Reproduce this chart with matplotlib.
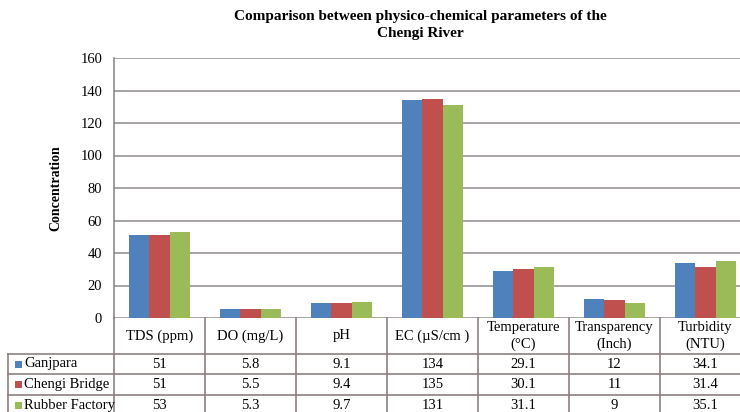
import matplotlib
matplotlib.use("Agg")
import matplotlib.pyplot as plt
from matplotlib.patches import Rectangle
from matplotlib.lines import Line2D
import numpy as np

plt.rcParams['font.family'] = ['Liberation Serif', 'DejaVu Serif']

title = "Comparison between physico-chemical parameters of the\nChengi River"
ylabel = "Concentration"
categories = ["TDS (ppm)", "DO (mg/L)", "pH", "EC (\u00b5S/cm )", "Temperature\n(\u00b0C)",
              "Transparency\n(Inch)", "Turbidity\n(NTU)"]
series_names = ["Ganjpara", "Chengi Bridge", "Rubber Factory"]
ganjpara = [51, 5.8, 9.1, 134, 29.1, 12, 34.1]
chengi_bridge = [51, 5.5, 9.4, 135, 30.1, 11, 31.4]
rubber_factory = [53, 5.3, 9.7, 131, 31.1, 9, 35.1]
table_text = [
    ["51", "5.8", "9.1", "134", "29.1", "12", "34.1"],
    ["51", "5.5", "9.4", "135", "30.1", "11", "31.4"],
    ["53", "5.3", "9.7", "131", "31.1", "9", "35.1"],
]
colors = ["#4F81BD", "#C0504D", "#9BBB59"]
yticks = [0, 20, 40, 60, 80, 100, 120, 140, 160]

W, H = 740, 412
fig = plt.figure(figsize=(W / 100, H / 100), dpi=100)

ax_left, ax_right, ax_top, ax_bot = 114, 751, 58, 318
ax = fig.add_axes([ax_left / W, (H - ax_bot) / H, (ax_right - ax_left) / W, (ax_bot - ax_top) / H])

series = [ganjpara, chengi_bridge, rubber_factory]
n = len(categories)
x = np.arange(n)
bw = 0.225
for i, (vals, c, name) in enumerate(zip(series, colors, series_names)):
    ax.bar(x + (i - 1) * bw, vals, width=bw, color=c, label=name, zorder=3, linewidth=0)

ax.set_xlim(-0.5, n - 0.5)
ax.set_ylim(0, 160)
ax.set_yticks(yticks)
ax.set_yticklabels([str(t) for t in yticks], fontsize=10.5)
ax.tick_params(axis='y', length=0, pad=8.5)
ax.set_xticks([])
ax.yaxis.grid(True, color="#9A9595", linewidth=1.2, zorder=0)
for s in ["top", "right", "bottom"]:
    ax.spines[s].set_visible(False)
ax.spines["left"].set_color("#8C8C8C")
ax.spines["left"].set_linewidth(1.2)
ax.set_ylabel(ylabel, fontsize=10, fontweight="bold", labelpad=13)

fig.suptitle(title, fontsize=11, fontweight="bold", x=420 / W, y=1 - 10 / H, va="top", linespacing=1.38)

# table (pixel helpers)
def fx(px):
    return px / W

def fy(py):
    return 1 - py / H

line_col = "#8E8080"
row_lines = [318, 354, 374, 395, 416]
col_w = (ax_right - ax_left) / n
col_edges = [ax_left + k * col_w for k in range(n + 1)]

# horizontal lines
for k, yl in enumerate(row_lines):
    if k == 0:
        continue
    fig.add_artist(Line2D([fx(8), fx(ax_right)], [fy(yl), fy(yl)], color=line_col, linewidth=1.2))
# vertical lines
for xe in col_edges:
    fig.add_artist(Line2D([fx(xe), fx(xe)], [fy(318), fy(416)], color=line_col, linewidth=1.2))
fig.add_artist(Line2D([fx(8), fx(8)], [fy(354), fy(416)], color=line_col, linewidth=1.2))

# header text
for k, cat in enumerate(categories):
    cx = (col_edges[k] + col_edges[k + 1]) / 2
    fig.text(fx(cx), fy((318 + 354) / 2), cat, ha="center", va="center", fontsize=10.5, linespacing=1.25)

# rows
for r in range(3):
    cy = (row_lines[r + 1] + row_lines[r + 2]) / 2
    fig.add_artist(Rectangle((fx(15), fy(cy + 3.5)), 7 / W, 7 / H, facecolor=colors[r], edgecolor="none"))
    fig.text(fx(24), fy(cy), series_names[r], ha="left", va="center", fontsize=10.5)
    for k in range(n):
        cx = (col_edges[k] + col_edges[k + 1]) / 2
        fig.text(fx(cx), fy(cy), table_text[r][k], ha="center", va="center", fontsize=10.5)

fig.savefig("out.png", dpi=100)
